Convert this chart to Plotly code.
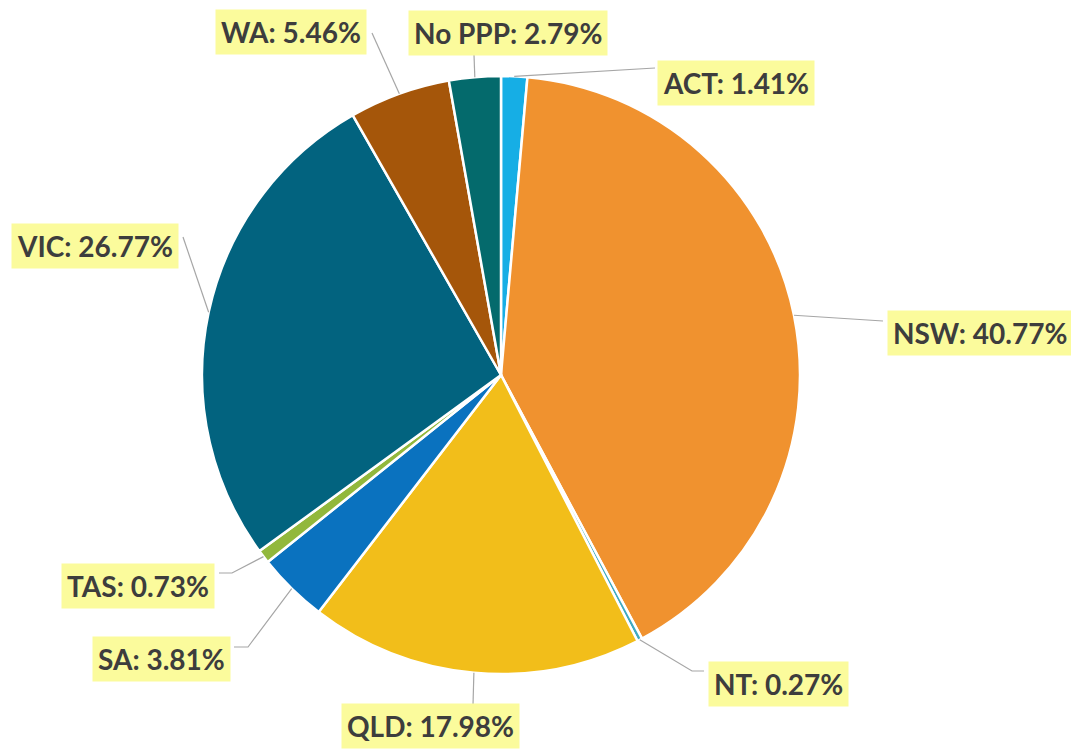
import math
import plotly.graph_objects as go

# ---- data ----
states = ["ACT", "NSW", "NT", "QLD", "SA", "TAS", "VIC", "WA", "No PPP"]
shares = [1.41, 40.77, 0.27, 17.98, 3.81, 0.73, 26.77, 5.46, 2.79]
slice_colors = ["#16AEE5", "#F0922F", "#3FA9C0", "#F2BE1A", "#0A72BF",
                "#92B83C", "#02637F", "#A5560A", "#046A6C"]

# ---- layout (screen pixels; page body has an 8px margin) ----
OFF = 8
W, H = 1079 - OFF, 749 - OFF
CX, CY, R = 501, 375, 299
label_pos = {
    "ACT": (736, 83), "NSW": (980, 333), "NT": (778, 684), "QLD": (430, 726),
    "SA": (161, 659), "TAS": (138, 586), "VIC": (95, 246), "WA": (291, 32),
    "No PPP": (508, 33),
}
leader_pts = {
    "ACT": [(655, 68)], "NSW": [(883, 321)], "NT": [(692, 671), (704, 671)],
    "QLD": [(473, 705)], "SA": [(248, 647), (234, 647)],
    "TAS": [(232, 573), (219, 573)], "VIC": [(183, 237)],
    "WA": [(372, 33)], "No PPP": [(474, 55)],
}

def px(x):
    return (x - OFF) / W

def py(y):
    return 1 - (y - OFF) / H

fig = go.Figure(go.Pie(
    labels=states, values=shares, sort=False, direction="clockwise",
    rotation=0, textinfo="none", hoverinfo="label+percent",
    marker=dict(colors=slice_colors, line=dict(color="white", width=2.5)),
    domain=dict(x=[px(CX - R), px(CX + R)], y=[py(CY + R), py(CY - R)]),
    showlegend=False,
))

total = sum(shares)
cum = 0.0
shapes, annotations = [], []
for name, v in zip(states, shares):
    mid = (cum + v / 2) / total
    cum += v
    ang = 2 * math.pi * mid
    ex, ey = CX + R * math.sin(ang), CY - R * math.cos(ang)
    pts = [(ex, ey)] + leader_pts[name]
    path = "M " + " L ".join(f"{px(x):.5f},{py(y):.5f}" for x, y in pts)
    shapes.append(dict(type="path", xref="paper", yref="paper", path=path,
                       line=dict(color="#A6A6A6", width=1.2)))
    lx, ly = label_pos[name]
    annotations.append(dict(
        x=px(lx), y=py(ly), xref="paper", yref="paper",
        xanchor="center", yanchor="middle", showarrow=False,
        text=f"{name}: {v:.2f}%",
        font=dict(family="Lato", size=28, color="#3D3D3D", weight=700),
        bgcolor="#FBFB9C", borderpad=5,
    ))

fig.update_layout(
    width=W, height=H, margin=dict(l=0, r=0, t=0, b=0),
    paper_bgcolor="white", plot_bgcolor="white",
    shapes=shapes, annotations=annotations,
)
fig.write_html("out.html")
